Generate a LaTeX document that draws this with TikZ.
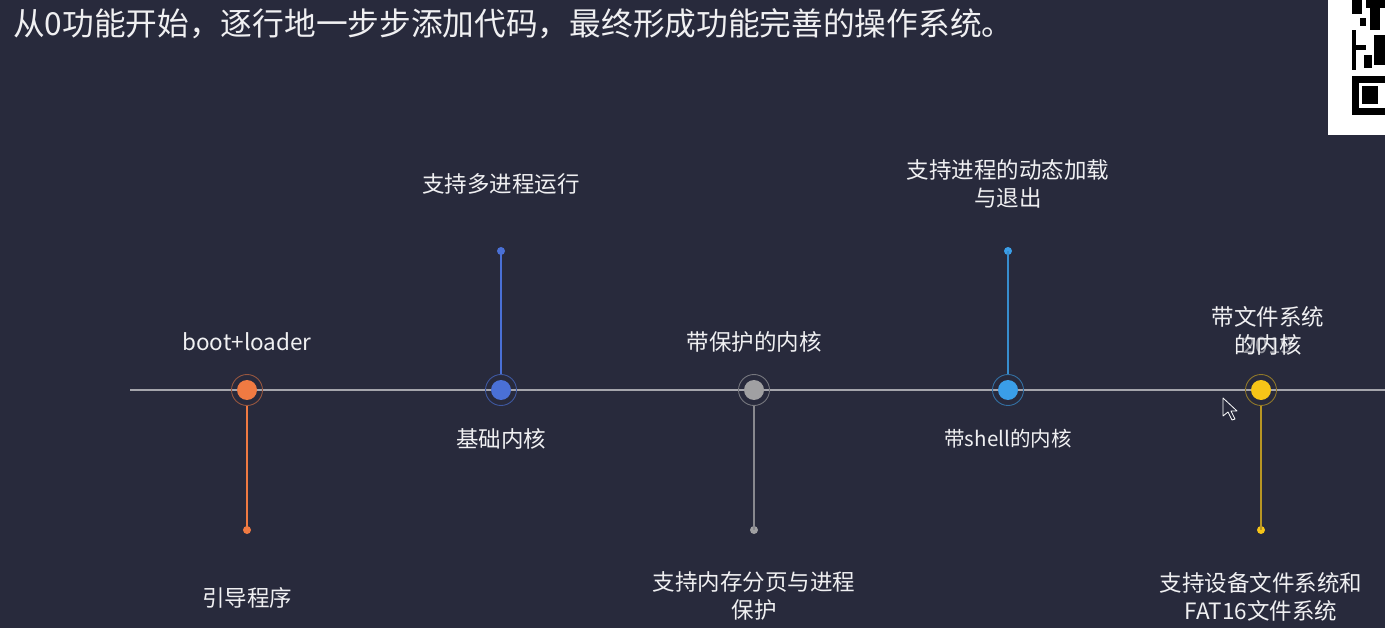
\documentclass[tikz,border=0pt]{standalone}
\usepackage{fontspec}
\setmainfont{Noto Sans CJK SC}
\begin{document}
\begin{tikzpicture}[x=1pt,y=-1pt,
  lbl/.style={text=labelwhite,font=\fontsize{22.5}{28}\selectfont,align=center,inner sep=0pt},
  stemline/.style={line width=1.6pt},
  ring/.style={circle,minimum size=31pt,inner sep=0pt,line width=0.9pt},
  core/.style={circle,minimum size=20pt,inner sep=0pt},
  enddot/.style={circle,minimum size=8pt,inner sep=0pt}]
\definecolor{bg}{RGB}{40,42,60}
\definecolor{labelwhite}{RGB}{240,240,242}
\definecolor{axis}{RGB}{165,165,172}
\definecolor{corange}{RGB}{240,122,66}
\definecolor{cblue}{RGB}{74,112,214}
\definecolor{cgrey}{RGB}{160,160,162}
\definecolor{clight}{RGB}{58,158,232}
\definecolor{cyellow}{RGB}{246,196,24}
\fill[bg] (0,0) rectangle (1385,628);
\useasboundingbox (0,0) rectangle (1385,628);

% title
\node[anchor=west,text=labelwhite,font=\fontsize{31.7}{34}\selectfont,inner sep=0pt] (title) at (13,24) {从0功能开始，逐行地一步步添加代码，最终形成功能完善的操作系统。};

% QR fragment
\fill[white] (1328,0) rectangle (1385,135);
\fill[black] (1352,0) rectangle (1362,14);
\fill[black] (1366,0) rectangle (1385,8);
\fill[black] (1370,8) rectangle (1380,30);
\fill[black] (1360,18) rectangle (1366,26);
\fill[black] (1352,30) rectangle (1356,70);
\fill[black] (1356,45) rectangle (1366,50);
\fill[black] (1374,35) rectangle (1385,65);
\fill[black] (1364,55) rectangle (1372,68);
\fill[black] (1352,76) rectangle (1385,115);
\fill[white] (1359,83) rectangle (1385,108);
\fill[black] (1362,86) rectangle (1378,104);

% axis
\coordinate (axL) at (130,390);
\coordinate (axR) at (1385,390);
\draw[axis,line width=1.8pt] (axL) -- (axR);

% 1 boot+loader
\node[ring,draw=corange!55!bg] (r1) at (247,390) {};
\node[core,fill=corange] (c1) at (247,390) {};
\node[enddot,fill=corange] (e1) at (247,530) {};
\draw[stemline,corange] (r1.south) -- (e1.center);
\node[lbl] (t1) at (247,342) {boot+loader};
\node[lbl] (b1) at (247,598) {引导程序};

% 2 basic kernel
\node[ring,draw=cblue!65!bg] (r2) at (501,390) {};
\node[core,fill=cblue] (c2) at (501,390) {};
\node[enddot,fill=cblue] (e2) at (501,251) {};
\draw[stemline,cblue] (r2.north) -- (e2.center);
\node[lbl] (t2) at (501,184) {支持多进程运行};
\node[lbl] (b2) at (501,439) {基础内核};

% 3 protected kernel
\node[ring,draw=cgrey!65!bg] (r3) at (754,390) {};
\node[core,fill=cgrey] (c3) at (754,390) {};
\node[enddot,fill=cgrey] (e3) at (754,530) {};
\draw[stemline,cgrey!80!bg] (r3.south) -- (e3.center);
\node[lbl] (t3) at (754,342) {带保护的内核};
\node[lbl] (b3) at (754,596) {支持内存分页与进程\\保护};

% 4 shell kernel
\node[ring,draw=clight!60!bg] (r4) at (1008,390) {};
\node[core,fill=clight] (c4) at (1008,390) {};
\node[enddot,fill=clight] (e4) at (1008,251) {};
\draw[stemline,clight!85!bg] (r4.north) -- (e4.center);
\node[lbl] (t4) at (1008,184) {支持进程的动态加载\\与退出};
\node[lbl,font=\fontsize{20.5}{28}\selectfont] (b4) at (1008,439) {带shell的内核};

% 5 file system kernel
\node[ring,draw=cyellow!50!bg] (r5) at (1261,390) {};
\node[core,fill=cyellow] (c5) at (1261,390) {};
\node[enddot,fill=cyellow] (e5) at (1261,530) {};
\draw[stemline,cyellow!70!bg] (r5.south) -- (e5.center);
\node[lbl] (t5) at (1268,331) {带文件系统\\的内核};
\node[lbl,opacity=0.55] (y5) at (1268,345) {2019};
\node[lbl] (b5) at (1261,597) {支持设备文件系统和\\FAT16文件系统};

% mouse cursor
\coordinate (m1) at (1223,398);
\coordinate (m2) at (1223,416);
\coordinate (m3) at (1228,412);
\coordinate (m4) at (1232,420);
\coordinate (m5) at (1235,419);
\coordinate (m6) at (1231,411);
\coordinate (m7) at (1237,411);
\draw[white,fill=bg,line width=0.8pt,line join=round] (m1) -- (m2) -- (m3) -- (m4) -- (m5) -- (m6) -- (m7) -- cycle;
\end{tikzpicture}
\end{document}
